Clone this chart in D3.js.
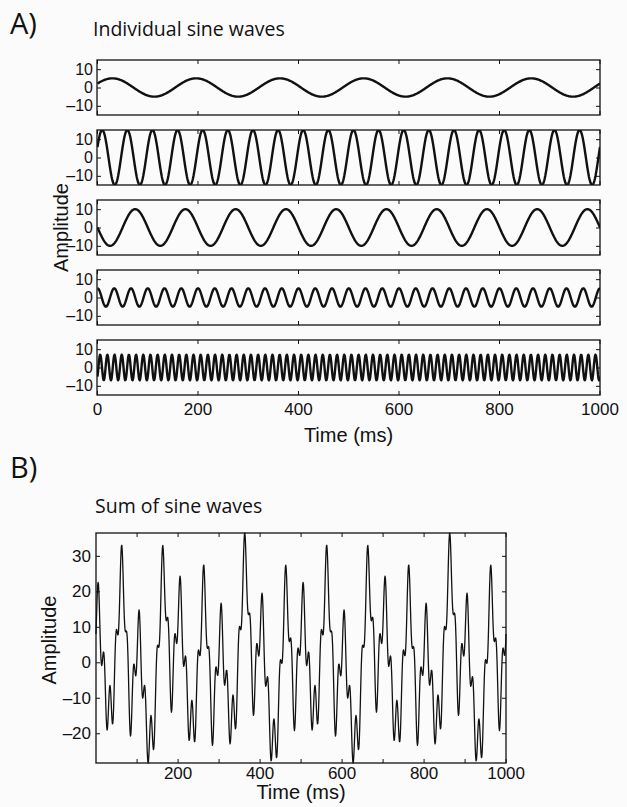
<!DOCTYPE html>
<html>
<head>
<meta charset="utf-8">
<script src="https://cdn.jsdelivr.net/npm/d3@7/dist/d3.min.js"></script>
<style>
  body { margin: 0; background: #fcfbfb; }
  svg { display: block; }
</style>
</head>
<body>
<svg id="chart" width="627" height="807"></svg>
<script>
// Sine wave parameters (one entry per panel)
const frequencies = [3, 10, 5, 15, 35]
const amplitudes = [5, 15, 10, 5, 7]
const phases = [Math.PI / 7, Math.PI / 8, Math.PI, Math.PI / 2, -Math.PI / 4]
const srate = 500
const timeStart = -1
const timeEnd = 1

// Tick labels
const xTicksA = [0, 200, 400, 600, 800, 1000]
const yTicksA = [-10, 0, 10]
const xTicksB = [100, 200, 300, 400, 500, 600, 700, 800, 900, 1000]
const xLabelsB = [200, 400, 600, 800, 1000]
const yTicksB = [-20, -10, 0, 10, 20, 30]

const width = 627
const height = 807
const tickFont = 'Liberation Sans, Arial, sans-serif'
const titleFont = 'Open Sans, Liberation Sans, sans-serif'

// samples, plotted against their index (1..N) as in the original figure
const times = d3.range(0, Math.round((timeEnd - timeStart) * srate) + 1).map(i => timeStart + i / srate)
const waves = frequencies.map((f, k) =>
  times.map((t, i) => ({ x: i + 1, y: amplitudes[k] * Math.sin(2 * Math.PI * t * f + phases[k]) }))
)
const sumWave = times.map((t, i) => ({ x: i + 1, y: d3.sum(waves, w => w[i].y) }))

const svg = d3.select('#chart')
svg.append('rect').attr('width', width).attr('height', height).attr('fill', '#fcfbfb')

const fmt = d => (d < 0 ? '\u2013' + Math.abs(d) : String(d))

function styleAxis(g, size) {
  g.select('.domain').remove()
  g.selectAll('line').attr('stroke', '#111').attr('stroke-width', 1)
  g.selectAll('text')
    .attr('fill', '#111')
    .style('font-family', tickFont)
    .style('font-size', size + 'px')
}

// ---------- Panel A ----------
const aLeft = 97, aRight = 600
const aTop = 60, aPanelH = 55, aStep = 70

svg.append('text').attr('x', 10).attr('y', 34)
  .style('font-family', titleFont).style('font-size', '29px').attr('fill', '#111').text('A)')
svg.append('text').attr('x', 93).attr('y', 36)
  .style('font-family', titleFont).style('font-size', '19.5px').attr('fill', '#111').text('Individual sine waves')

const xA = d3.scaleLinear().domain([0, 1001]).range([aLeft, aRight])
const yMaxA = d3.max(amplitudes)

waves.forEach((wave, k) => {
  const top = aTop + k * aStep
  const yA = d3.scaleLinear().domain([-yMaxA, yMaxA]).range([top + aPanelH, top])
  const g = svg.append('g')

  g.append('defs').append('clipPath').attr('id', 'clipA' + k)
    .append('rect').attr('x', aLeft).attr('y', top).attr('width', aRight - aLeft).attr('height', aPanelH)

  g.append('path')
    .datum(wave)
    .attr('clip-path', `url(#clipA${k})`)
    .attr('fill', 'none')
    .attr('stroke', '#111')
    .attr('stroke-width', 2.4)
    .attr('stroke-linejoin', 'round')
    .attr('d', d3.line().x(d => xA(d.x)).y(d => yA(d.y)))

  g.append('g').attr('transform', `translate(${aLeft},0)`)
    .call(d3.axisLeft(yA).tickValues(yTicksA).tickSize(-4).tickPadding(4).tickFormat(fmt))
    .call(a => styleAxis(a, 16))
  g.append('g').attr('transform', `translate(${aRight},0)`)
    .call(d3.axisRight(yA).tickValues(yTicksA).tickSize(-4).tickFormat(''))
    .call(a => styleAxis(a, 16))
  g.append('g').attr('transform', `translate(0,${top})`)
    .call(d3.axisTop(xA).tickValues(xTicksA).tickSize(-4).tickFormat(''))
    .call(a => styleAxis(a, 16))
  g.append('g').attr('transform', `translate(0,${top + aPanelH})`)
    .call(d3.axisBottom(xA).tickValues(xTicksA).tickSize(-4).tickPadding(8)
      .tickFormat(k === waves.length - 1 ? d => d : ''))
    .call(a => styleAxis(a, 17))

  g.append('rect')
    .attr('x', aLeft).attr('y', top).attr('width', aRight - aLeft).attr('height', aPanelH)
    .attr('fill', 'none').attr('stroke', '#111').attr('stroke-width', 1.3)
})

const aBottom = aTop + 4 * aStep + aPanelH
svg.append('text')
  .attr('transform', `translate(${(aLeft + aRight) / 2},${aBottom + 47})`)
  .attr('text-anchor', 'middle')
  .style('font-family', tickFont).style('font-size', '20px').attr('fill', '#111')
  .text('Time (ms)')
svg.append('text')
  .attr('transform', `translate(68,${(aTop + aBottom) / 2}) rotate(-90)`)
  .attr('text-anchor', 'middle')
  .style('font-family', tickFont).style('font-size', '20px').attr('fill', '#111')
  .text('Amplitude')

// ---------- Panel B ----------
const bLeft = 96, bRight = 506, bTop = 533, bBottom = 763

svg.append('text').attr('x', 10).attr('y', 478)
  .style('font-family', titleFont).style('font-size', '29px').attr('fill', '#111').text('B)')
svg.append('text').attr('x', 95).attr('y', 513)
  .style('font-family', titleFont).style('font-size', '19.5px').attr('fill', '#111').text('Sum of sine waves')

const xB = d3.scaleLinear().domain([1, 1001]).range([bLeft, bRight])
const yB = d3.scaleLinear().domain(d3.extent(sumWave, d => d.y)).range([bBottom, bTop])

svg.append('path')
  .datum(sumWave)
  .attr('fill', 'none')
  .attr('stroke', '#111')
  .attr('stroke-width', 1.3)
  .attr('stroke-linejoin', 'round')
  .attr('d', d3.line().x(d => xB(d.x)).y(d => yB(d.y)))

svg.append('g').attr('transform', `translate(${bLeft},0)`)
  .call(d3.axisLeft(yB).tickValues(yTicksB).tickSize(-4).tickPadding(5).tickFormat(fmt))
  .call(a => styleAxis(a, 17))
svg.append('g').attr('transform', `translate(${bRight},0)`)
  .call(d3.axisRight(yB).tickValues(yTicksB).tickSize(-4).tickFormat(''))
  .call(a => styleAxis(a, 17))
svg.append('g').attr('transform', `translate(0,${bTop})`)
  .call(d3.axisTop(xB).tickValues(xTicksB).tickSize(-4).tickFormat(''))
  .call(a => styleAxis(a, 17))
svg.append('g').attr('transform', `translate(0,${bBottom})`)
  .call(d3.axisBottom(xB).tickValues(xTicksB).tickSize(-4).tickPadding(4)
    .tickFormat(d => (xLabelsB.includes(d) ? d : '')))
  .call(a => styleAxis(a, 17))

svg.append('rect')
  .attr('x', bLeft).attr('y', bTop).attr('width', bRight - bLeft).attr('height', bBottom - bTop)
  .attr('fill', 'none').attr('stroke', '#111').attr('stroke-width', 1.3)

svg.append('text')
  .attr('transform', `translate(${(bLeft + bRight) / 2},${bBottom + 36})`)
  .attr('text-anchor', 'middle')
  .style('font-family', tickFont).style('font-size', '20px').attr('fill', '#111')
  .text('Time (ms)')
svg.append('text')
  .attr('transform', `translate(56,${(bTop + bBottom) / 2 - 8}) rotate(-90)`)
  .attr('text-anchor', 'middle')
  .style('font-family', tickFont).style('font-size', '20px').attr('fill', '#111')
  .text('Amplitude')
</script>
</body>
</html>
